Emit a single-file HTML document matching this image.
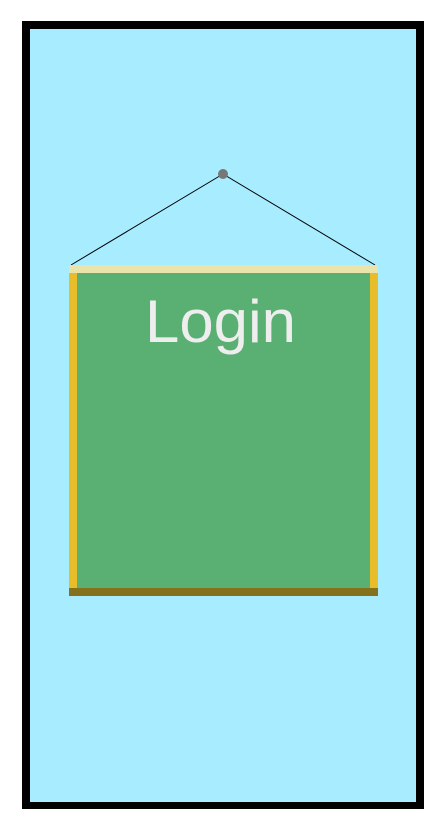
<!DOCTYPE html>
<html><head><meta charset="utf-8"><style>
html,body{margin:0;padding:0;background:#fff;width:444px;height:831px;overflow:hidden}
</style></head><body>
<svg width="444" height="831" viewBox="0 0 444 831" xmlns="http://www.w3.org/2000/svg">
  <rect x="22" y="21" width="402" height="788" fill="#000"/>
  <rect x="30" y="29" width="386" height="773" fill="#a8ecff"/>
  <line x1="223" y1="174" x2="71" y2="265" stroke="#000" stroke-width="1"/>
  <line x1="223" y1="174" x2="375" y2="265" stroke="#000" stroke-width="1"/>
  <circle cx="223" cy="174" r="5" fill="#777"/>
  <g>
    <rect x="69" y="265" width="309" height="8" fill="#ebe4aa"/>
    <rect x="69" y="273" width="8" height="315" fill="#e8bd2a"/>
    <rect x="370" y="273" width="8" height="315" fill="#e8bd2a"/>
    <rect x="77" y="273" width="293" height="315" fill="#5ab072"/>
    <rect x="69" y="588" width="309" height="8" fill="#85701c"/>
    <text x="145" y="342" font-family="Liberation Sans, sans-serif" font-size="60" fill="#eeeeee" textLength="151" lengthAdjust="spacingAndGlyphs">Login</text>
  </g>
</svg>
</body></html>
